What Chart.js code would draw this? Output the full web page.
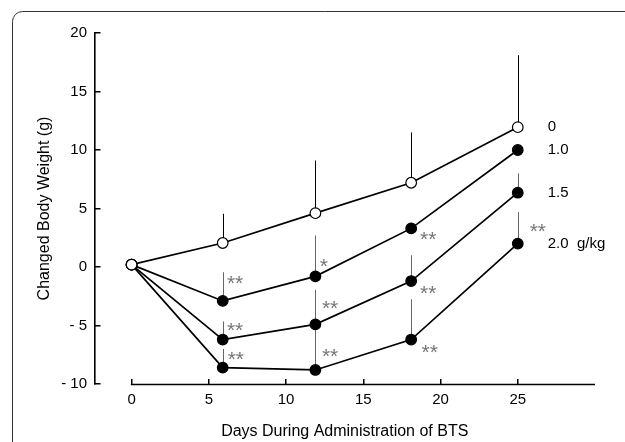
<!DOCTYPE html>
<html>
<head>
<meta charset="utf-8">
<script src="https://cdn.jsdelivr.net/npm/chart.js@4.4.1/dist/chart.umd.min.js"></script>
<style>
html, body { margin: 0; padding: 0; background: #fff; }
#wrap { width: 625px; height: 442px; }
</style>
</head>
<body>
<div id="wrap"><canvas id="chart" width="625" height="442"></canvas></div>
<script>
const days = [0, 5.9, 11.9, 18.1, 25];
const dose0 = [0.2, 2.05, 4.6, 7.2, 11.95];
const dose10 = [0.2, -2.9, -0.8, 3.3, 10.0];
const dose15 = [0.2, -6.2, -4.9, -1.2, 6.35];
const dose20 = [0.2, -8.6, -8.8, -6.2, 2.0];

// upper end of each SD bar, null where no bar is drawn
const dose0Top = [null, 4.55, 9.1, 11.5, 18.1];
const dose10Top = [null, -0.45, 2.7, null, null];
const dose15Top = [null, -4.65, -1.95, 1.0, 8.0];
const dose20Top = [null, -7.0, -4.9, -2.75, 4.7];

const seriesLabels = ["0", "1.0", "1.5", "2.0  g/kg"];
const xTicks = [0, 5, 10, 15, 20, 25];
const yTicks = [-10, -5, 0, 5, 10, 15, 20];
const yTickLabels = ["- 10", "- 5", "0", "5", "10", "15", "20"];

// significance marks: [day, value, text]
const sigMarks = [
  [6.7, -1.0, "**"], [6.7, -5.0, "**"], [6.75, -7.55, "**"],
  [12.45, 0.45, "*"], [12.85, -3.2, "**"], [12.85, -7.25, "**"],
  [19.2, 2.75, "**"], [19.2, -1.85, "**"], [19.3, -6.9, "**"],
  [26.3, 3.4, "**"]
];

const FONT = "'Liberation Sans', Arial, Helvetica, sans-serif";
const series = [dose0, dose10, dose15, dose20];
const tops = [dose0Top, dose10Top, dose15Top, dose20Top];

const extras = {
  id: "extras",
  beforeDraw(chart) {
    const ctx = chart.ctx;
    ctx.save();
    ctx.strokeStyle = "#333";
    ctx.lineWidth = 1;
    ctx.beginPath();
    ctx.moveTo(12.5, 470);
    ctx.lineTo(12.5, 22);
    ctx.arcTo(12.5, 11.5, 22.5, 11.5, 10);
    ctx.lineTo(660, 11.5);
    ctx.stroke();
    ctx.restore();
  },
  beforeDatasetsDraw(chart) {
    const { ctx, scales: { x, y } } = chart;
    ctx.save();
    ctx.strokeStyle = "#000";
    ctx.lineWidth = 1.6;
    ctx.beginPath();
    ctx.moveTo(x.getPixelForValue(0) - 0.75, x.top + 0.5);
    ctx.lineTo(x.getPixelForValue(x.max), x.top + 0.5);
    ctx.stroke();

    ctx.lineWidth = 1;
    series.forEach((vals, i) => {
      ctx.strokeStyle = i === 0 ? "#000" : "#666";
      tops[i].forEach((t, j) => {
        if (t === null) return;
        const px = Math.round(x.getPixelForValue(days[j])) + 0.5;
        ctx.beginPath();
        ctx.moveTo(px, y.getPixelForValue(vals[j]));
        ctx.lineTo(px, y.getPixelForValue(t));
        ctx.stroke();
      });
    });
    ctx.restore();
  },
  afterDatasetsDraw(chart) {
    const { ctx, scales: { x, y } } = chart;
    ctx.save();
    ctx.fillStyle = "#777";
    ctx.font = "21px " + FONT;
    ctx.textAlign = "center";
    ctx.textBaseline = "alphabetic";
    sigMarks.forEach(m => {
      ctx.fillText(m[2], x.getPixelForValue(m[0]), y.getPixelForValue(m[1]) + 11);
    });

    ctx.fillStyle = "#000";
    ctx.font = "15px " + FONT;
    ctx.textAlign = "left";
    ctx.textBaseline = "middle";
    const last = days.length - 1;
    series.forEach((vals, i) => {
      ctx.fillText(seriesLabels[i], x.getPixelForValue(days[last]) + 30, y.getPixelForValue(vals[last]));
    });
    ctx.restore();
  }
};

function makeSet(vals, fill) {
  return {
    data: days.map((d, i) => ({ x: d, y: vals[i] })),
    borderColor: "#000",
    borderWidth: 1.7,
    tension: 0,
    pointRadius: 5.3,
    pointBorderWidth: 1.2,
    pointBorderColor: "#000",
    pointBackgroundColor: fill
  };
}

new Chart(document.getElementById("chart"), {
  type: "line",
  data: {
    datasets: [
      makeSet(dose0, "#fff"),
      makeSet(dose10, "#000"),
      makeSet(dose15, "#000"),
      makeSet(dose20, "#000")
    ]
  },
  options: {
    responsive: false,
    animation: false,
    devicePixelRatio: 1,
    layout: { padding: { top: 33, right: 30, left: 0, bottom: 0 } },
    plugins: { legend: { display: false }, tooltip: { enabled: false } },
    scales: {
      x: {
        type: "linear",
        min: -2.4,
        max: 30,
        afterFit: s => { s.height = 58; },
        afterBuildTicks: s => { s.ticks = xTicks.map(v => ({ value: v })); },
        ticks: { color: "#000", font: { size: 15, family: FONT }, padding: 12, maxRotation: 0 },
        grid: { drawOnChartArea: false, tickLength: -5, color: "#000", lineWidth: 1.5 },
        border: { display: false },
        title: {
          display: true,
          text: "Days During Administration of BTS",
          color: "#000",
          font: { size: 16, family: FONT },
          padding: { top: 0, bottom: 1 }
        }
      },
      y: {
        min: -10,
        max: 20,
        afterFit: s => { s.width = 94.5; },
        afterBuildTicks: s => { s.ticks = yTicks.map(v => ({ value: v })); },
        ticks: {
          color: "#000",
          font: { size: 15, family: FONT },
          padding: 13.5,
          callback: (v, i) => yTickLabels[i]
        },
        grid: { drawOnChartArea: false, tickLength: -6, color: "#000", lineWidth: 1.5 },
        border: { color: "#000", width: 1.6 },
        title: {
          display: true,
          text: "Changed Body Weight (g)",
          color: "#000",
          font: { size: 16, family: FONT },
          padding: { top: 35, bottom: 0 }
        }
      }
    }
  },
  plugins: [extras]
});
</script>
</body>
</html>
